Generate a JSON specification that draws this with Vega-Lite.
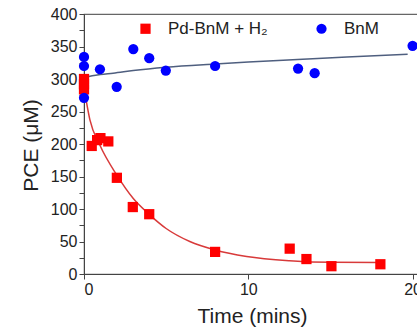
{
  "$schema": "https://vega.github.io/schema/vega-lite/v6.json",
  "autosize": "none",
  "padding": {"left": 84, "top": 14, "right": 0, "bottom": 53},
  "width": 345,
  "height": 260,
  "background": "white",
  "config": {
    "font": "Liberation Sans",
    "view": {"stroke": "#666666", "strokeWidth": 1.2},
    "axis": {"domainColor": "#444444", "tickColor": "#444444", "labelColor": "#222222", "titleColor": "#222222", "grid": false, "labelFont": "Liberation Sans", "titleFont": "Liberation Sans", "titleFontWeight": "normal", "labelOverlap": false, "labelFontSize": 16, "labelPadding": 2, "tickSize": 5, "titleFontSize": 21, "titleBaseline": "alphabetic", "titleAnchor": "middle"}
  },
  "datasets": {
    "pts": [
      {"series": "Pd-BnM + H₂", "t": 0, "pce": 300},
      {"series": "Pd-BnM + H₂", "t": 0, "pce": 292},
      {"series": "Pd-BnM + H₂", "t": 0, "pce": 284},
      {"series": "Pd-BnM + H₂", "t": 0.47, "pce": 197},
      {"series": "Pd-BnM + H₂", "t": 0.8, "pce": 206},
      {"series": "Pd-BnM + H₂", "t": 1.0, "pce": 209},
      {"series": "Pd-BnM + H₂", "t": 1.48, "pce": 204},
      {"series": "Pd-BnM + H₂", "t": 2.0, "pce": 148},
      {"series": "Pd-BnM + H₂", "t": 2.97, "pce": 103},
      {"series": "Pd-BnM + H₂", "t": 3.97, "pce": 92},
      {"series": "Pd-BnM + H₂", "t": 7.98, "pce": 34},
      {"series": "Pd-BnM + H₂", "t": 12.52, "pce": 39},
      {"series": "Pd-BnM + H₂", "t": 13.54, "pce": 23},
      {"series": "Pd-BnM + H₂", "t": 15.06, "pce": 12},
      {"series": "Pd-BnM + H₂", "t": 18.04, "pce": 15},
      {"series": "BnM", "t": 0, "pce": 334},
      {"series": "BnM", "t": 0, "pce": 320},
      {"series": "BnM", "t": 0, "pce": 271},
      {"series": "BnM", "t": 0.97, "pce": 315},
      {"series": "BnM", "t": 1.99, "pce": 288},
      {"series": "BnM", "t": 3.0, "pce": 346},
      {"series": "BnM", "t": 3.97, "pce": 332},
      {"series": "BnM", "t": 4.98, "pce": 313},
      {"series": "BnM", "t": 7.98, "pce": 320},
      {"series": "BnM", "t": 13.03, "pce": 316},
      {"series": "BnM", "t": 14.04, "pce": 309},
      {"series": "BnM", "t": 20.0, "pce": 351}
    ],
    "redfit": [
      {"t": 0, "pce": 287},
      {"t": 0.36, "pce": 237},
      {"t": 0.97, "pce": 198},
      {"t": 2.0, "pce": 152},
      {"t": 3.0, "pce": 116},
      {"t": 4.0, "pce": 91},
      {"t": 5.0, "pce": 70},
      {"t": 6.44, "pce": 50},
      {"t": 7.98, "pce": 37},
      {"t": 9.9, "pce": 27},
      {"t": 12.5, "pce": 20.5},
      {"t": 15.06, "pce": 18},
      {"t": 18.0, "pce": 17.7}
    ],
    "bluefit": [
      {"t": 0, "pce": 302},
      {"t": 0.5, "pce": 305},
      {"t": 1.0, "pce": 307},
      {"t": 1.77, "pce": 309},
      {"t": 3.0, "pce": 313},
      {"t": 5.0, "pce": 318},
      {"t": 8.0, "pce": 323},
      {"t": 10.0, "pce": 326},
      {"t": 13.0, "pce": 330},
      {"t": 16.0, "pce": 334},
      {"t": 19.7, "pce": 338}
    ]
  },
  "layer": [
    {
      "data": {"name": "redfit"},
      "mark": {"type": "line", "color": "#d83a3a", "strokeWidth": 1.5, "interpolate": "monotone"},
      "encoding": {
        "x": {"field": "t", "type": "quantitative",
          "scale": {"domain": [0, 21], "nice": false, "zero": false},
          "axis": {"title": "Time (mins)", "values": [0, 5, 10, 15, 20], "tickCount": 4, "labelOverlap": false, "titleX": 168, "titleY": 48}},
        "y": {"field": "pce", "type": "quantitative",
          "scale": {"domain": [0, 400], "nice": false},
          "axis": {"title": "PCE (μM)", "values": [0, 25, 50, 75, 100, 125, 150, 175, 200, 225, 250, 275, 300, 325, 350, 375, 400], "labelExpr": "datum.value % 50 === 0 ? datum.label : ''", "labelOverlap": false, "titleX": -47, "titleY": 131}}
      }
    },
    {
      "data": {"name": "bluefit"},
      "mark": {"type": "line", "color": "#4f5f7f", "strokeWidth": 1.5, "interpolate": "monotone"},
      "encoding": {
        "x": {"field": "t", "type": "quantitative",
          "scale": {"domain": [0, 21], "nice": false, "zero": false},
          "axis": {"title": "Time (mins)", "values": [0, 5, 10, 15, 20], "tickCount": 4, "labelOverlap": false, "titleX": 168, "titleY": 48}},
        "y": {"field": "pce", "type": "quantitative",
          "scale": {"domain": [0, 400], "nice": false},
          "axis": {"title": "PCE (μM)", "values": [0, 25, 50, 75, 100, 125, 150, 175, 200, 225, 250, 275, 300, 325, 350, 375, 400], "labelExpr": "datum.value % 50 === 0 ? datum.label : ''", "labelOverlap": false, "titleX": -47, "titleY": 131}}
      }
    },
    {
      "data": {"name": "pts"},
      "mark": {"type": "point", "filled": true, "opacity": 1, "size": 105},
      "encoding": {
        "x": {"field": "t", "type": "quantitative",
          "scale": {"domain": [0, 21], "nice": false, "zero": false},
          "axis": {"title": "Time (mins)", "values": [0, 5, 10, 15, 20], "tickCount": 4, "labelOverlap": false, "titleX": 168, "titleY": 48}},
        "y": {"field": "pce", "type": "quantitative",
          "scale": {"domain": [0, 400], "nice": false},
          "axis": {"title": "PCE (μM)", "values": [0, 25, 50, 75, 100, 125, 150, 175, 200, 225, 250, 275, 300, 325, 350, 375, 400], "labelExpr": "datum.value % 50 === 0 ? datum.label : ''", "labelOverlap": false, "titleX": -47, "titleY": 131}},
        "color": {
          "field": "series", "type": "nominal",
          "scale": {"domain": ["Pd-BnM + H₂", "BnM"], "range": ["#ff0000", "#0000ff"]},
          "legend": {
            "title": null,
            "orient": "none",
            "direction": "horizontal",
            "legendX": 53,
            "legendY": 6,
            "labelFontSize": 17,
            "labelColor": "#222222",
            "labelOffset": 14,
            "columnPadding": 45,
            "symbolSize": 105,
            "symbolStrokeWidth": 0,
            "padding": 0
          }
        },
        "shape": {
          "field": "series", "type": "nominal",
          "scale": {"domain": ["Pd-BnM + H₂", "BnM"], "range": ["square", "circle"]},
          "legend": null
        }
      }
    }
  ]
}
